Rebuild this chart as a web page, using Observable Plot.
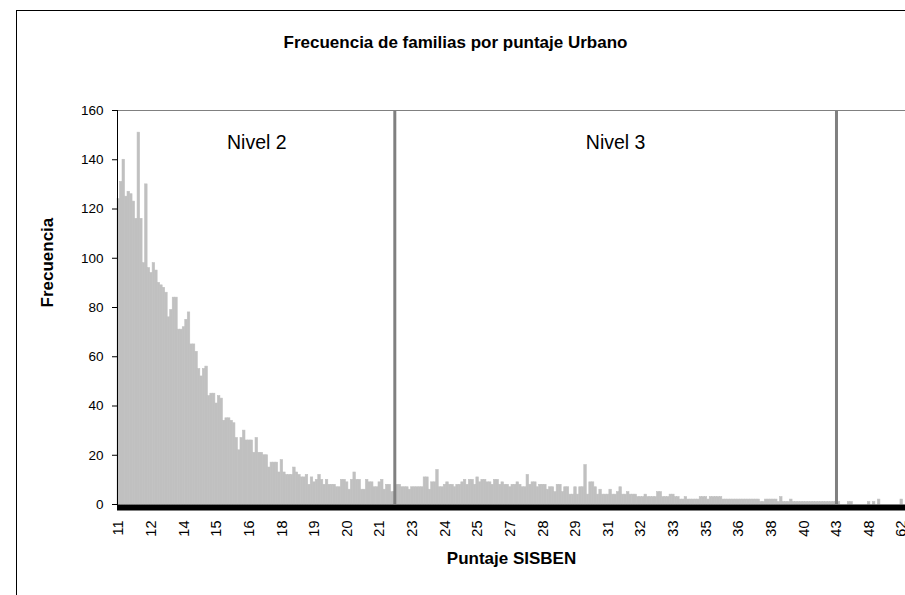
<!DOCTYPE html>
<html>
<head>
<meta charset="utf-8">
<script src="https://cdn.jsdelivr.net/npm/d3@7"></script>
<script src="https://cdn.jsdelivr.net/npm/@observablehq/plot@0.6"></script>
<style>
  html, body { margin: 0; padding: 0; background: #fff; overflow: hidden; }
  #wrap { position: relative; width: 905px; height: 595px; overflow: hidden;
          font-family: "Liberation Sans", Arial, sans-serif; color: #000; }
  #border { position: absolute; left: 16px; top: 10px; width: 1000px; height: 700px;
            border: 1px solid #000; box-sizing: border-box; pointer-events: none; }
  #title { height: 70px; box-sizing: border-box; padding-top: 33px; line-height: 20px;
           text-align: center; font-weight: bold; font-size: 17px; padding-left: 6px; }
  #chart svg { display: block; }
</style>
</head>
<body>
<div id="wrap">
  <div id="border"></div>
  <div id="title">Frecuencia de familias por puntaje Urbano</div>
  <div id="chart"></div>
</div>
<script>
// Frequency of families per SISBEN score category (one row = one labelled interval of 13 categories)
const freq = [
  124,131,140,125,127,126,123,116,151,116,98,130,96,
  94,98,95,90,89,88,86,76,79,84,84,71,71,
  72,75,78,65,65,62,55,52,55,56,44,45,45,
  41,44,43,34,35,35,34,33,27,22,27,30,26,
  26,26,21,27,21,21,20,20,15,17,17,17,13,
  18,13,12,12,12,15,13,12,11,11,12,8,11,
  9,10,12,10,8,10,8,8,8,7,7,10,10,
  9,6,10,13,10,10,6,6,10,9,9,7,7,
  9,10,6,8,8,5,5,8,8,7,7,7,6,
  7,7,7,7,7,11,11,6,9,9,14,7,7,
  8,9,8,8,7,8,8,9,10,8,10,10,8,
  11,9,10,10,9,9,8,10,10,8,9,8,8,
  7,8,8,9,8,7,7,12,8,9,9,7,8,
  8,8,6,7,7,5,8,8,5,7,7,4,4,
  7,4,7,7,16,4,9,9,7,4,6,4,4,
  4,6,4,4,5,7,4,4,5,4,4,4,3,
  3,3,4,3,3,3,3,5,5,3,3,3,4,
  4,3,3,2,2,3,2,2,2,2,2,3,3,
  3,2,3,3,3,3,3,2,2,2,2,2,2,
  2,2,2,2,2,2,2,2,2,1,1,2,2,
  2,2,2,1,3,1,1,1,2,1,1,1,1,
  1,1,1,1,1,1,1,1,1,1,1,1,1,
  1,1,0,0,0,1,1,0,0,0,0,0,0,
  1,0,1,0,2,0,0,0,0,0,0,0,0,
  2,0
];
const tickLabels = ["11","12","14","15","16","18","19","20","21","23","24","25","27","28","29","31","32","33","35","36","38","40","43","48","62"];
const labelStep = 13;           // a label every 13 categories
const levelNames = ["Nivel 2", "Nivel 3"];
const levelEdges = [0, 110, 286]; // category index of level boundaries
const yTicks = [0, 20, 40, 60, 80, 100, 120, 140, 160];

const FONT = '"Liberation Sans", Arial, sans-serif';
const data = freq.map((f, i) => ({i, f})).filter(d => d.f > 0);
const idx = d3.range(freq.length);
const labelIdx = tickLabels.map((t, k) => k * labelStep);
const labelAt = new Map(tickLabels.map((t, k) => [k * labelStep, t]));
const levels = levelNames.map((name, k) => ({name, mid: Math.round((levelEdges[k] + levelEdges[k + 1]) / 2)}));
const bounds = levelEdges.slice(1);

const chart = Plot.plot({
  width: 905,
  height: 525,
  marginLeft: 117,
  marginRight: 0,
  marginTop: 40,
  marginBottom: 91,
  style: {fontFamily: FONT, background: "transparent", color: "#000"},
  x: {type: "band", domain: idx, padding: 0, axis: null},
  y: {domain: [0, 160], axis: null},
  marks: [
    Plot.frame({anchor: "top", stroke: "#808080"}),
    Plot.barY(data, {x: "i", y: "f", fill: "#c0c0c0", stroke: "#c0c0c0", strokeWidth: 0.6}),
    Plot.ruleX(bounds, {x: d => d, stroke: "#808080", strokeWidth: 3}),
    Plot.text(levels, {x: "mid", text: "name", frameAnchor: "top", dy: 25, fontSize: 19.5}),
    Plot.axisY({ticks: yTicks, tickSize: 5, tickPadding: 9, fontSize: 13.5, label: null}),
    Plot.frame({anchor: "left"}),
    // heavy category axis (dense tick marks in the original form a solid black band)
    Plot.ruleY([0], {stroke: "#000", strokeWidth: 6, dy: 3}),
    Plot.axisX({ticks: labelIdx, tickSize: 0, tickRotate: -90, tickPadding: 16,
                fontSize: 14.5, tickFormat: i => labelAt.get(i) ?? "", label: null}),
    Plot.text(["Puntaje SISBEN"], {text: d => d, frameAnchor: "bottom", dy: 59, fontSize: 17, fontWeight: "bold"}),
    Plot.text(["Frecuencia"], {text: d => d, frameAnchor: "left", dx: -70, rotate: -90, fontSize: 17, fontWeight: "bold"})
  ]
});
document.getElementById("chart").appendChild(chart);
</script>
</body>
</html>
